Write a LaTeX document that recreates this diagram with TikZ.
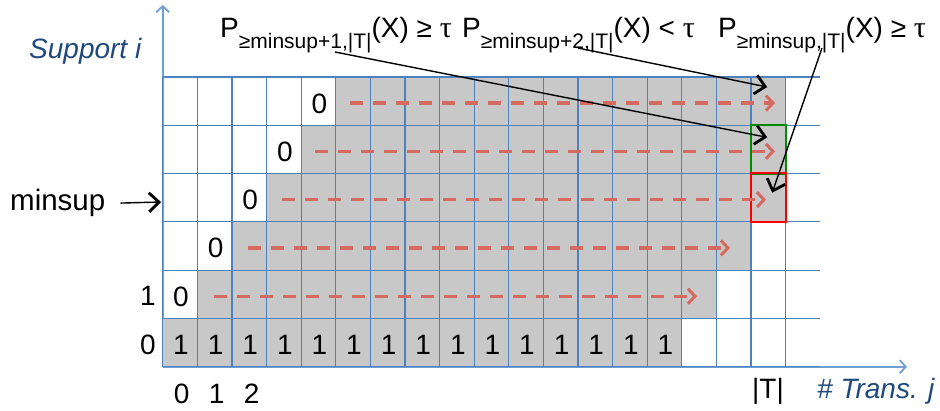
\documentclass[tikz,border=0pt]{standalone}
\usepackage{fontspec}
\setmainfont{Liberation Sans}
\newfontfamily\taufont{Liberation Serif}
\usetikzlibrary{arrows.meta,calc}
\definecolor{gridblue}{RGB}{79,129,189}
\definecolor{axisblue}{RGB}{110,160,215}
\definecolor{cellgray}{RGB}{200,200,200}
\definecolor{dashred}{RGB}{212,106,96}
\definecolor{labelblue}{RGB}{31,73,125}
\definecolor{boxgreen}{RGB}{0,140,0}
\definecolor{boxred}{RGB}{250,0,0}
\newcommand{\psub}[1]{\raisebox{-11pt}{\fontsize{21}{21}\selectfont #1}}
\newcommand{\mytau}{{\taufont\fontsize{30}{30}\selectfont τ}}
\begin{document}
\begin{tikzpicture}[x=1pt,y=-1pt,
  cell/.style={minimum width=34.6pt,minimum height=48.3pt,inner sep=0pt,draw=none},
  gridline/.style={draw=gridblue,line width=1.2pt},
  axisline/.style={draw=axisblue,line width=1.8pt,-{Straight Barb[length=6pt,width=13pt,line width=1.8pt]}},
  digit/.style={font=\fontsize{28}{30}\selectfont,anchor=base,inner sep=0pt},
  toplabel/.style={font=\fontsize{28}{30}\selectfont,anchor=base west,inner sep=0pt},
  axlabel/.style={font=\fontsize{28}{30}\selectfont\itshape,text=labelblue,anchor=base west,inner sep=0pt},
  redarrow/.style={draw=dashred,line width=3.5pt,dash pattern=on 13pt off 10pt,
     -{Straight Barb[length=7pt,width=15pt,line width=3pt]}},
  blackarrow/.style={draw=black,line width=1.4pt,-{Straight Barb[length=10pt,width=19pt,line width=2.8pt]}}]
\useasboundingbox (0,0) rectangle (940,410);
% axes
\draw[axisline] (162.7,366.7) -- (162.7,5);
\draw[axisline] (162.7,366.7) -- (907,366.7);
% cells
\foreach \r in {0,...,5}
  \foreach \c in {0,...,17}
    \node[cell] (c\r-\c) at ({162.7+34.6*(\c+0.5)},{366.7-48.3*(\r+0.5)}) {};
% gray regions
\foreach \r/\a/\b in {0/0/14,1/1/15,2/2/16,3/3/17,4/4/17,5/5/17}
  \fill[cellgray] ({162.7+34.6*\a},{366.7-48.3*(\r+1)}) rectangle ({162.7+34.6*(\b+1)},{366.7-48.3*\r});
% grid
\foreach \k in {0,...,18}
  \draw[gridline] ({162.7+34.6*\k},76.9) -- ({162.7+34.6*\k},366.7);
\foreach \k in {0,...,6}
  \draw[gridline] (162.7,{366.7-48.3*\k}) -- (820,{366.7-48.3*\k});
% highlighted boxes
\draw[draw=boxgreen,line width=1.8pt] (c4-17.north west) rectangle (c4-17.south east);
\draw[draw=boxred,line width=1.8pt] (c3-17.north west) rectangle (c3-17.south east);
% red dashed arrows
\foreach \r/\s/\e in {1/214/697,2/248/730,3/282/766,4/315/775,5/350/775}{
  \coordinate (rs\r) at (\s,{366.7-48.3*(\r+0.5)+2});
  \coordinate (re\r) at (\e,{366.7-48.3*(\r+0.5)+2});
  \draw[redarrow] (rs\r) -- (re\r);
}
% cell digits
\foreach \c in {0,...,14}
  \node[digit] (one\c) at ($(c0-\c)+(1,12)$) {1};
\foreach \r/\c in {1/0,2/1,3/2,4/3,5/4}
  \node[digit] (zero\r) at ($(c\r-\c)+(1,12)$) {0};
% row and column labels
\node[digit] (row0) at (148,354) {0};
\node[digit] (row1) at (148,305.7) {1};
\node[digit] (col0) at (181.7,403) {0};
\node[digit] (col1) at (216.7,403) {1};
\node[digit] (col2) at (251.7,403) {2};
\node[digit] (colT) at (768,398) {|T|};
% axis labels
\node[axlabel] (ylab) at (29,58) {Support i};
\node[axlabel] (xlab) at (817,398) {\# Trans. j};
% minsup
\node[font=\fontsize{29.5}{30}\selectfont,anchor=base west,inner sep=0pt] (minsup) at (10,210.7) {minsup};
\coordinate (minsupend) at (161,202);
\draw[blackarrow] ([xshift=15pt]minsup.east) -- (minsupend);
% top labels
\node[toplabel] (lab1) at (220,37) {P\psub{≥minsup+1,|T|}(X) ≥ \mytau};
\node[toplabel] (lab2) at (462,37) {P\psub{≥minsup+2,|T|}(X) < \mytau};
\node[toplabel] (lab3) at (718,37) {P\psub{≥minsup,|T|}(X) ≥ \mytau};
\coordinate (a1s) at (335,52);
\coordinate (a2s) at (578,48);
\coordinate (a3s) at (822,48);
\draw[blackarrow] (a1s) -- ($(c4-17)+(-1,-12)$);
\draw[blackarrow] (a2s) -- ($(c5-17)+(-1,-14)$);
\draw[blackarrow] (a3s) -- ($(c3-17)+(4,-5)$);
\end{tikzpicture}
\end{document}
